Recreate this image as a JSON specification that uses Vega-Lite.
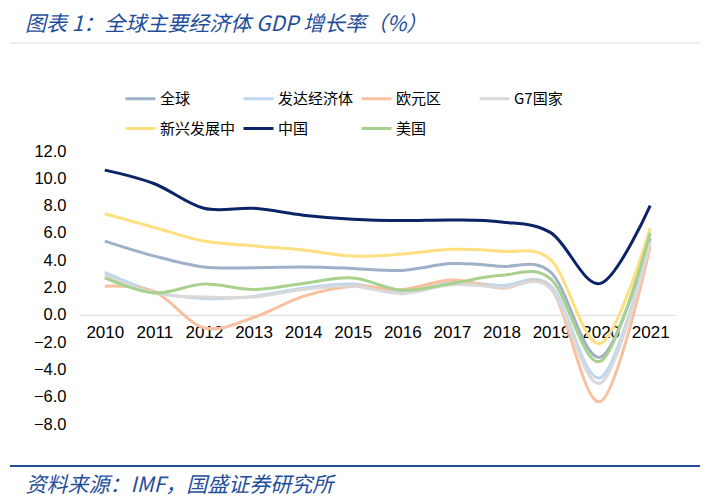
{
  "$schema": "https://vega.github.io/schema/vega-lite/v6.json",
  "width": 595,
  "height": 273,
  "autosize": {"type": "none"},
  "padding": {"left": 80, "top": 151, "right": 35, "bottom": 76},
  "background": "white",
  "title": {
    "text": "图表 1：全球主要经济体 GDP 增长率（%）",
    "anchor": "start",
    "frame": "group",
    "dx": -55,
    "offset": 8,
    "fontSize": 21,
    "font": "Noto Sans CJK SC",
    "fontStyle": "italic",
    "fontWeight": "normal",
    "color": "#1f4e9c"
  },
  "config": {"view": {"stroke": null}},
  "layer": [
    {
      "data": {"values": [{"k": "a"}]},
      "mark": {"type": "rule", "color": "#dcdcdc", "strokeWidth": 1},
      "encoding": {"x": {"value": -70}, "x2": {"value": 620}, "y": {"value": -108}}
    },
    {
      "data": {"values": [{"k": "b"}]},
      "mark": {"type": "rule", "color": "#1f4e9c", "strokeWidth": 2},
      "encoding": {"x": {"value": -70}, "x2": {"value": 620}, "y": {"value": 315}}
    },
    {
      "data": {
        "values": [
          {"series": "全球", "year": "2010", "value": 5.4},
          {"series": "全球", "year": "2011", "value": 4.3},
          {"series": "全球", "year": "2012", "value": 3.5},
          {"series": "全球", "year": "2013", "value": 3.45},
          {"series": "全球", "year": "2014", "value": 3.5},
          {"series": "全球", "year": "2015", "value": 3.4},
          {"series": "全球", "year": "2016", "value": 3.25},
          {"series": "全球", "year": "2017", "value": 3.75},
          {"series": "全球", "year": "2018", "value": 3.55},
          {"series": "全球", "year": "2019", "value": 3.1},
          {"series": "全球", "year": "2020", "value": -3.1},
          {"series": "全球", "year": "2021", "value": 5.6},
          {"series": "发达经济体", "year": "2010", "value": 3.1},
          {"series": "发达经济体", "year": "2011", "value": 1.7},
          {"series": "发达经济体", "year": "2012", "value": 1.2},
          {"series": "发达经济体", "year": "2013", "value": 1.35},
          {"series": "发达经济体", "year": "2014", "value": 1.95},
          {"series": "发达经济体", "year": "2015", "value": 2.25},
          {"series": "发达经济体", "year": "2016", "value": 1.7},
          {"series": "发达经济体", "year": "2017", "value": 2.35},
          {"series": "发达经济体", "year": "2018", "value": 2.15},
          {"series": "发达经济体", "year": "2019", "value": 2.1},
          {"series": "发达经济体", "year": "2020", "value": -4.6},
          {"series": "发达经济体", "year": "2021", "value": 5.4},
          {"series": "欧元区", "year": "2010", "value": 2.1},
          {"series": "欧元区", "year": "2011", "value": 1.7},
          {"series": "欧元区", "year": "2012", "value": -0.95},
          {"series": "欧元区", "year": "2013", "value": -0.2},
          {"series": "欧元区", "year": "2014", "value": 1.35},
          {"series": "欧元区", "year": "2015", "value": 2.1},
          {"series": "欧元区", "year": "2016", "value": 1.85},
          {"series": "欧元区", "year": "2017", "value": 2.55},
          {"series": "欧元区", "year": "2018", "value": 1.95},
          {"series": "欧元区", "year": "2019", "value": 1.9},
          {"series": "欧元区", "year": "2020", "value": -6.35},
          {"series": "欧元区", "year": "2021", "value": 5.0},
          {"series": "G7国家", "year": "2010", "value": 2.9},
          {"series": "G7国家", "year": "2011", "value": 1.6},
          {"series": "G7国家", "year": "2012", "value": 1.3},
          {"series": "G7国家", "year": "2013", "value": 1.3},
          {"series": "G7国家", "year": "2014", "value": 1.85},
          {"series": "G7国家", "year": "2015", "value": 2.1},
          {"series": "G7国家", "year": "2016", "value": 1.55},
          {"series": "G7国家", "year": "2017", "value": 2.2},
          {"series": "G7国家", "year": "2018", "value": 2.0},
          {"series": "G7国家", "year": "2019", "value": 1.9},
          {"series": "G7国家", "year": "2020", "value": -5.0},
          {"series": "G7国家", "year": "2021", "value": 5.3},
          {"series": "新兴发展中", "year": "2010", "value": 7.4},
          {"series": "新兴发展中", "year": "2011", "value": 6.4},
          {"series": "新兴发展中", "year": "2012", "value": 5.4},
          {"series": "新兴发展中", "year": "2013", "value": 5.05},
          {"series": "新兴发展中", "year": "2014", "value": 4.75},
          {"series": "新兴发展中", "year": "2015", "value": 4.3},
          {"series": "新兴发展中", "year": "2016", "value": 4.45},
          {"series": "新兴发展中", "year": "2017", "value": 4.8},
          {"series": "新兴发展中", "year": "2018", "value": 4.65},
          {"series": "新兴发展中", "year": "2019", "value": 4.0},
          {"series": "新兴发展中", "year": "2020", "value": -2.1},
          {"series": "新兴发展中", "year": "2021", "value": 6.35},
          {"series": "中国", "year": "2010", "value": 10.6},
          {"series": "中国", "year": "2011", "value": 9.6},
          {"series": "中国", "year": "2012", "value": 7.8},
          {"series": "中国", "year": "2013", "value": 7.8},
          {"series": "中国", "year": "2014", "value": 7.3},
          {"series": "中国", "year": "2015", "value": 7.0},
          {"series": "中国", "year": "2016", "value": 6.9},
          {"series": "中国", "year": "2017", "value": 6.95},
          {"series": "中国", "year": "2018", "value": 6.8},
          {"series": "中国", "year": "2019", "value": 6.0},
          {"series": "中国", "year": "2020", "value": 2.3},
          {"series": "中国", "year": "2021", "value": 8.0},
          {"series": "美国", "year": "2010", "value": 2.7},
          {"series": "美国", "year": "2011", "value": 1.6},
          {"series": "美国", "year": "2012", "value": 2.25},
          {"series": "美国", "year": "2013", "value": 1.85},
          {"series": "美国", "year": "2014", "value": 2.3},
          {"series": "美国", "year": "2015", "value": 2.7},
          {"series": "美国", "year": "2016", "value": 1.8},
          {"series": "美国", "year": "2017", "value": 2.3},
          {"series": "美国", "year": "2018", "value": 2.9},
          {"series": "美国", "year": "2019", "value": 2.6},
          {"series": "美国", "year": "2020", "value": -3.4},
          {"series": "美国", "year": "2021", "value": 6.0}
        ]
      },
      "mark": {"type": "line", "interpolate": "cardinal", "strokeWidth": 3},
      "encoding": {
        "x": {
          "field": "year",
          "type": "ordinal",
          "scale": {"type": "point", "padding": 0.5},
          "axis": {
            "orient": "bottom",
            "offset": -109.2,
            "domainColor": "#d9d9d9",
            "domainWidth": 1,
            "ticks": false,
            "grid": false,
            "labelAngle": 0,
            "labelFontSize": 17,
            "labelFont": "Liberation Sans",
            "labelColor": "#000000",
            "labelPadding": 10,
            "title": "资料来源：IMF，国盛证券研究所",
            "titleX": -55,
            "titleY": 171,
            "titleAlign": "left",
            "titleAnchor": "start",
            "titleBaseline": "middle",
            "titleFontSize": 21,
            "titleFont": "Noto Sans CJK SC",
            "titleFontStyle": "italic",
            "titleFontWeight": "normal",
            "titleColor": "#1f4e9c"
          }
        },
        "y": {
          "field": "value",
          "type": "quantitative",
          "scale": {"domain": [-8, 12], "nice": false, "zero": false},
          "axis": {
            "values": [-8, -6, -4, -2, 0, 2, 4, 6, 8, 10, 12],
            "format": ".1f",
            "domain": false,
            "ticks": false,
            "grid": false,
            "labelPadding": 14,
            "labelFontSize": 16.5,
            "labelFont": "Liberation Sans",
            "labelColor": "#000000",
            "title": null
          }
        },
        "color": {
          "field": "series",
          "type": "nominal",
          "scale": {
            "domain": ["全球", "发达经济体", "欧元区", "G7国家", "新兴发展中", "中国", "美国"],
            "range": ["#9fb0c9", "#bdd7ee", "#f9c0a0", "#d9d9d9", "#ffdf7f", "#0b2466", "#a9d18e"]
          },
          "legend": {
            "orient": "none",
            "direction": "horizontal",
            "legendX": 44,
            "legendY": -69,
            "columns": 4,
            "gridAlign": "all",
            "symbolType": "stroke",
            "symbolSize": 900,
            "symbolStrokeWidth": 3,
            "labelFontSize": 15,
            "labelFont": "Noto Sans CJK SC",
            "labelColor": "#000000",
            "labelOffset": 3,
            "columnPadding": 1,
            "rowPadding": 5,
            "padding": 0,
            "title": null
          }
        }
      }
    }
  ]
}
